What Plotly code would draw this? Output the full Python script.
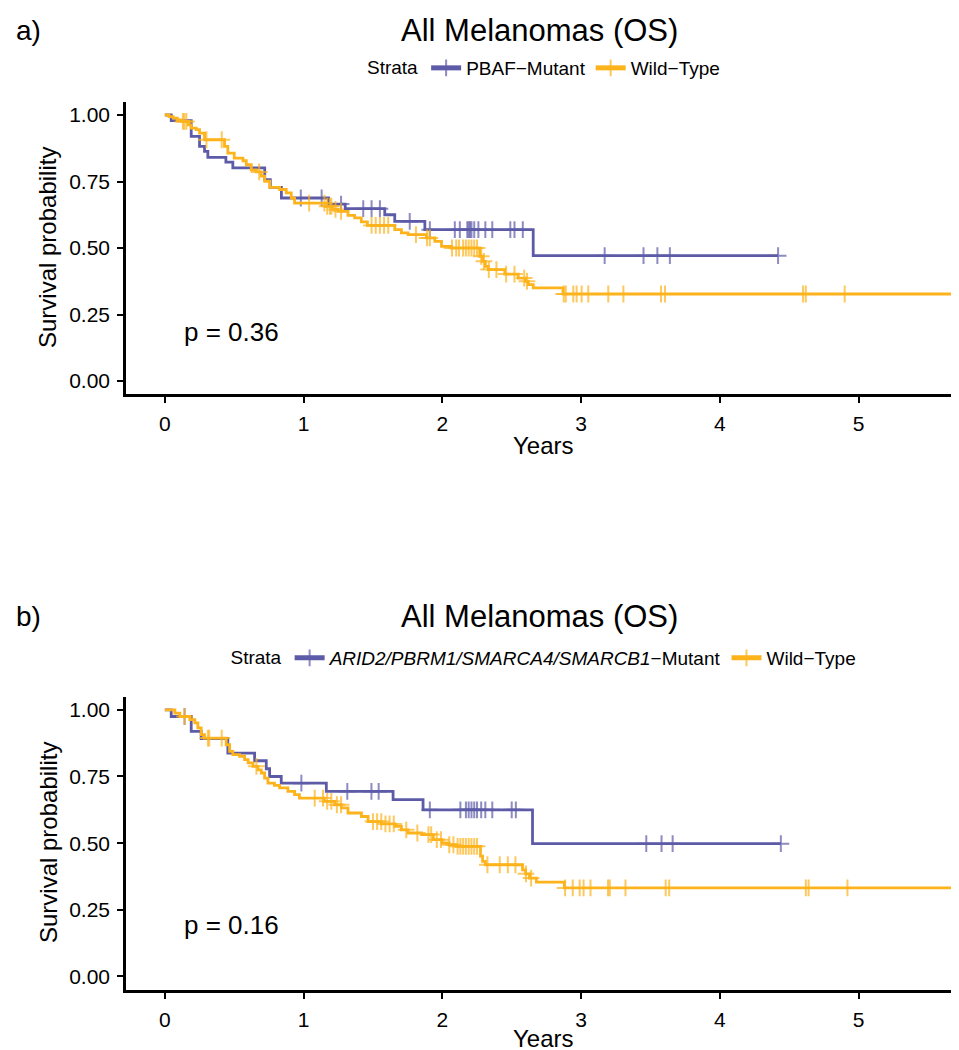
import numpy as np
import plotly.graph_objects as go

# ---------------- data ----------------
# Panel a: PBAF-Mutant
a_mut_time = [0.046, 0.19, 0.25, 0.286, 0.31, 0.44, 0.49, 0.72, 0.76, 0.84, 1.18, 1.30, 1.585, 1.657, 1.874, 2.655]
a_mut_surv = [0.979, 0.920, 0.882, 0.863, 0.841, 0.823, 0.801, 0.757, 0.728, 0.688, 0.665, 0.648, 0.625, 0.600, 0.569, 0.471]
a_mut_cens = [0.98, 1.13, 1.27, 1.43, 1.49, 1.55, 1.765, 1.91, 2.09, 2.126, 2.18, 2.19, 2.20, 2.21, 2.23, 2.26,
              2.31, 2.36, 2.49, 2.52, 2.58, 3.17, 3.45, 3.55, 3.64, 4.42]
a_mut_end = 4.42

# Panel a: Wild-Type
a_wt_time = [0.03, 0.06, 0.09, 0.12, 0.17, 0.19, 0.226, 0.25, 0.286, 0.43, 0.454, 0.50, 0.563, 0.587, 0.623,
             0.659, 0.695, 0.719, 0.755, 0.827, 0.875, 0.911, 0.935, 1.16, 1.21, 1.25, 1.32, 1.368, 1.416, 1.46,
             1.657, 1.705, 1.753, 1.885, 1.946, 1.994, 2.066, 2.27, 2.29, 2.31, 2.33, 2.45, 2.547, 2.60, 2.62,
             2.655, 2.87]
a_wt_surv = [0.994, 0.988, 0.982, 0.976, 0.963, 0.951, 0.945, 0.932, 0.907, 0.882, 0.857, 0.838, 0.828, 0.813,
             0.794, 0.786, 0.770, 0.751, 0.728, 0.720, 0.707, 0.688, 0.669, 0.657, 0.645, 0.638, 0.623, 0.613,
             0.598, 0.585, 0.569, 0.557, 0.550, 0.538, 0.525, 0.506, 0.500, 0.469, 0.450, 0.431, 0.419, 0.402,
             0.387, 0.375, 0.362, 0.350, 0.327]
a_wt_cens = [0.13, 0.14, 0.155, 0.30, 0.41, 0.68, 1.04, 1.15, 1.17, 1.19, 1.20, 1.23, 1.27, 1.49, 1.52, 1.55,
             1.58, 1.61, 1.81, 1.89, 1.91, 2.07, 2.10, 2.12, 2.15, 2.17, 2.19, 2.21, 2.23, 2.25, 2.28, 2.30,
             2.335, 2.39, 2.46, 2.52, 2.59, 2.61, 2.875, 2.89, 2.944, 2.968, 3.004, 3.052, 3.196, 3.305,
             3.576, 3.605, 4.60, 4.62, 4.90]
a_wt_end = 5.78

# Panel b: ARID2/PBRM1/SMARCA4/SMARCB1-Mutant
b_mut_time = [0.046, 0.19, 0.262, 0.454, 0.647, 0.731, 0.755, 0.839, 1.164, 1.645, 1.861, 2.65]
b_mut_surv = [0.975, 0.919, 0.892, 0.838, 0.809, 0.779, 0.750, 0.725, 0.694, 0.663, 0.625, 0.498]
b_mut_cens = [0.142, 0.984, 1.315, 1.489, 1.541, 1.91, 2.13, 2.17, 2.19, 2.21, 2.23, 2.25, 2.28, 2.31, 2.36,
              2.50, 2.53, 3.47, 3.58, 3.66, 4.44]
b_mut_end = 4.44

# Panel b: Wild-Type
b_wt_time = [0.072, 0.108, 0.18, 0.216, 0.238, 0.262, 0.286, 0.442, 0.467, 0.49, 0.539, 0.575, 0.6, 0.635,
             0.671, 0.695, 0.719, 0.743, 0.79, 0.827, 0.887, 0.935, 0.97, 1.15, 1.224, 1.272, 1.32, 1.417,
             1.465, 1.561, 1.657, 1.705, 1.753, 1.85, 1.935, 1.998, 2.049, 2.10, 2.275, 2.29, 2.31, 2.578,
             2.60, 2.628, 2.678, 2.879]
b_wt_surv = [0.988, 0.975, 0.963, 0.951, 0.932, 0.907, 0.894, 0.869, 0.844, 0.832, 0.826, 0.813, 0.801, 0.788,
             0.775, 0.763, 0.744, 0.725, 0.717, 0.707, 0.694, 0.682, 0.669, 0.657, 0.644, 0.632, 0.613, 0.600,
             0.581, 0.572, 0.563, 0.550, 0.538, 0.532, 0.513, 0.501, 0.494, 0.488, 0.451, 0.432, 0.419, 0.400,
             0.385, 0.369, 0.354, 0.332]
b_wt_cens = [0.142, 0.31, 0.32, 0.41, 0.66, 1.08, 1.14, 1.17, 1.20, 1.24, 1.27, 1.50, 1.53, 1.56, 1.59, 1.62,
             1.65, 1.74, 1.82, 1.90, 1.92, 1.96, 1.99, 2.05, 2.08, 2.11, 2.13, 2.15, 2.17, 2.19, 2.21, 2.23,
             2.25, 2.325, 2.414, 2.472, 2.527, 2.603, 2.64, 2.885, 2.94, 2.99, 3.018, 3.068, 3.194, 3.207,
             3.32, 3.61, 3.635, 4.62, 4.64, 4.92]
b_wt_end = 5.78

x_ticks = [0, 1, 2, 3, 4, 5]
y_ticks = [0.0, 0.25, 0.5, 0.75, 1.0]
y_tick_labels = ["0.00", "0.25", "0.50", "0.75", "1.00"]

title_text = "All Melanomas (OS)"
a_labels = ["PBAF\u2212Mutant", "Wild\u2212Type"]
b_labels = ["<i>ARID2/PBRM1/SMARCA4/SMARCB1</i>\u2212Mutant", "Wild\u2212Type"]
p_values = ["p = 0.36", "p = 0.16"]

COL_MUT = "#5D5BA8"
COL_WT = "#FDB31C"
FONT = "Liberation Sans, Arial, Helvetica, sans-serif"


def km_trace(times, surv, cens, end, name, color, xa, ya, legend):
    t = np.array([0.0] + list(times))
    s = np.array([1.0] + list(surv))
    c = np.array(cens, dtype=float)
    idx = np.searchsorted(t, c, side="right") - 1
    sc = s[idx]
    x = np.concatenate([t, c, [end]])
    y = np.concatenate([s, sc, [s[-1]]])
    sz = np.concatenate([np.zeros(len(t)), np.full(len(c), 12.0), [0.0]])
    order = np.argsort(x, kind="stable")
    return go.Scatter(
        x=x[order], y=y[order], mode="lines+markers", name=name,
        line=dict(color=color, width=2.8, shape="hv"),
        marker=dict(symbol="cross-thin", size=sz[order], color=color,
                    line=dict(color=color, width=2)),
        xaxis=xa, yaxis=ya, legend=legend, cliponaxis=True,
    )


fig = go.Figure()
fig.add_trace(km_trace(a_mut_time, a_mut_surv, a_mut_cens, a_mut_end, a_labels[0], COL_MUT, "x", "y", "legend"))
fig.add_trace(km_trace(a_wt_time, a_wt_surv, a_wt_cens, a_wt_end, a_labels[1], COL_WT, "x", "y", "legend"))
fig.add_trace(km_trace(b_mut_time, b_mut_surv, b_mut_cens, b_mut_end, b_labels[0], COL_MUT, "x2", "y2", "legend2"))
fig.add_trace(km_trace(b_wt_time, b_wt_surv, b_wt_cens, b_wt_end, b_labels[1], COL_WT, "x2", "y2", "legend2"))

W, H = 959, 1050
xdom = [118 / W, 956 / W]
ydom_a = [1 - 386.3 / H, 1 - 93.7 / H]
ydom_b = [1 - 981.8 / H, 1 - 688.5 / H]

xcommon = dict(range=[-0.28, 5.76], tickvals=x_ticks, showline=True, linecolor="black", linewidth=2.5,
               ticks="outside", ticklen=6, tickwidth=2, tickcolor="black", showgrid=False, zeroline=False,
               tickfont=dict(size=21, color="black"), ticklabelstandoff=3, fixedrange=True)
ycommon = dict(range=[-0.05, 1.05], tickvals=y_ticks, ticktext=y_tick_labels, showline=True, linecolor="black",
               linewidth=2.5, ticks="outside", ticklen=6, tickwidth=2, tickcolor="black", showgrid=False,
               zeroline=False, tickfont=dict(size=21, color="black"), ticklabelstandoff=3, fixedrange=True)

legcommon = dict(orientation="h", xanchor="center", x=537 / W, yanchor="middle",
                 font=dict(size=19, color="black"), itemsizing="constant",
                 title=dict(text="Strata", side="left", font=dict(size=19, color="black")),
                 bgcolor="rgba(0,0,0,0)", tracegroupgap=0, itemwidth=30)

fig.update_layout(
    width=W, height=H, margin=dict(l=0, r=0, t=0, b=0),
    paper_bgcolor="white", plot_bgcolor="white",
    font=dict(family=FONT, color="black"),
    xaxis=dict(domain=xdom, anchor="y", **xcommon),
    yaxis=dict(domain=ydom_a, anchor="x", **ycommon),
    xaxis2=dict(domain=xdom, anchor="y2", **xcommon),
    yaxis2=dict(domain=ydom_b, anchor="x2", **ycommon),
    legend=dict(y=1 - 60 / H, **legcommon),
    legend2=dict(y=1 - 650 / H, **legcommon),
)

ann = []
for lab, ytitle, ysurv, yyears, xr, yr, pv in [
    ("a)", 1 - 23 / H, 1 - 240 / H, 1 - 437 / H, "x", "y", p_values[0]),
    ("b)", 1 - 608 / H, 1 - 835 / H, 1 - 1030 / H, "x2", "y2", p_values[1]),
]:
    ann.append(dict(text=lab, x=6 / W, y=ytitle, xref="paper", yref="paper", xanchor="left", yanchor="middle",
                    showarrow=False, font=dict(size=28)))
    ann.append(dict(text=title_text, x=531 / W, y=ytitle, xref="paper", yref="paper", xanchor="center",
                    yanchor="middle", showarrow=False, font=dict(size=31)))
    ann.append(dict(text="Survival probability", x=40 / W, y=ysurv, xref="paper", yref="paper",
                    xanchor="center", yanchor="middle", textangle=-90, showarrow=False, font=dict(size=24)))
    ann.append(dict(text="Years", x=535 / W, y=yyears, xref="paper", yref="paper", xanchor="center",
                    yanchor="middle", showarrow=False, font=dict(size=24)))
    ann.append(dict(text=pv, x=0.12, y=0.185 if xr == "x" else 0.193, xref=xr, yref=yr, xanchor="left",
                    yanchor="middle", showarrow=False, font=dict(size=26)))
fig.update_layout(annotations=ann)

fig.write_html("out.html")
